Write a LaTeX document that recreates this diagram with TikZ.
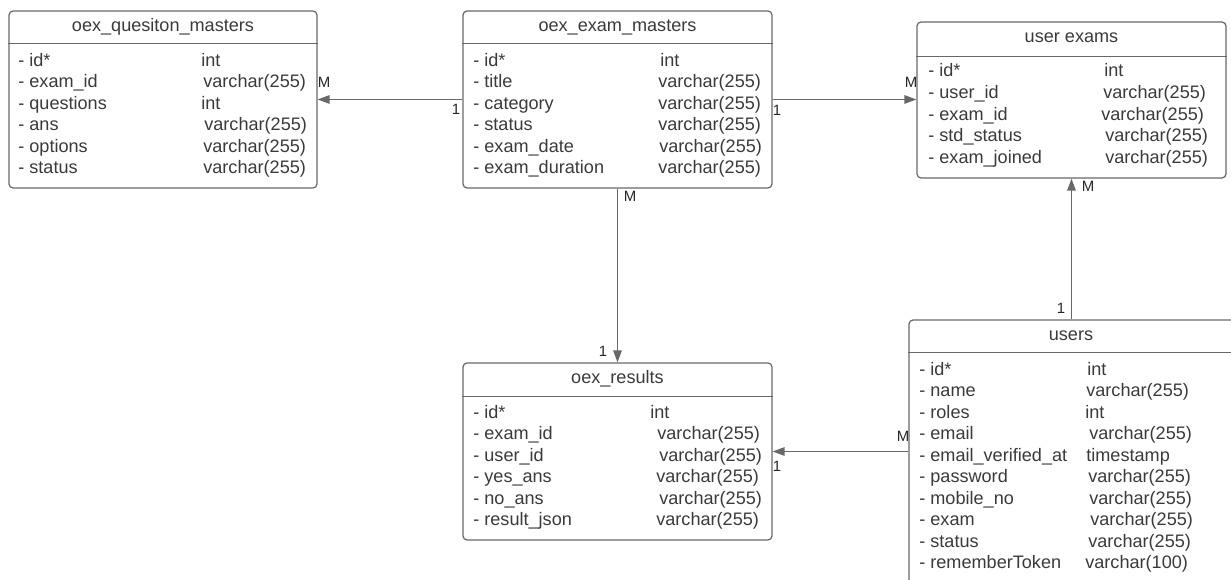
\documentclass[tikz,border=0pt]{standalone}
\usepackage{fontspec}
\setmainfont{Liberation Sans}
\usetikzlibrary{arrows.meta}
\definecolor{ink}{HTML}{3A3A3A}
\definecolor{edge}{HTML}{686868}

\begin{document}
\begin{tikzpicture}[x=0.02cm, y=-0.02cm, font=\fontsize{10.3}{12}\selectfont, text=ink,
	tbl/.style={draw=edge, line width=0.7pt, rounded corners=0.08cm, inner sep=0pt},
	hdr/.style={inner sep=0pt, text height=7.5pt, text depth=2.2pt},
	fld/.style={anchor=west, inner sep=0pt, text height=7.5pt, text depth=2.2pt},
	sep/.style={draw=edge, line width=0.7pt},
	card/.style={font=\fontsize{8.5}{10}\selectfont, text=black!85, inner sep=0pt},
	rel/.style={draw=edge, line width=0.7pt, ->, >={Triangle[length=0.24cm, width=0.17cm]}}]
	\useasboundingbox (0, 0) rectangle (1231, 580);
	\clip (0, 0) rectangle (1231, 580);
	
	% oex_quesiton_masters
	\node[tbl, minimum width=6.16cm, minimum height=3.54cm] (qm) at (163, 99.5) {};
	\draw[sep] ([yshift=-0.66cm]qm.north west) -- ([yshift=-0.66cm]qm.north east);
	\node[hdr] (qm-h) at (163, 27) {oex\_quesiton\_masters};
	\node[fld] (qm-n1) at (18, 61.5) {- id*};
	\node[fld] (qm-t1) at (201, 61.5) {int};
	\node[fld] (qm-n2) at (18, 83) {- exam\_id};
	\node[fld] (qm-t2) at (203, 83) {varchar(255)};
	\node[fld] (qm-n3) at (18, 104.5) {- questions};
	\node[fld] (qm-t3) at (201, 104.5) {int};
	\node[fld] (qm-n4) at (18, 126) {- ans};
	\node[fld] (qm-t4) at (204, 126) {varchar(255)};
	\node[fld] (qm-n5) at (18, 147.5) {- options};
	\node[fld] (qm-t5) at (203, 147.5) {varchar(255)};
	\node[fld] (qm-n6) at (18, 169) {- status};
	\node[fld] (qm-t6) at (203, 169) {varchar(255)};
	
	% oex_exam_masters
	\node[tbl, minimum width=6.18cm, minimum height=3.54cm] (em) at (617.5, 99.5) {};
	\draw[sep] ([yshift=-0.66cm]em.north west) -- ([yshift=-0.66cm]em.north east);
	\node[hdr] (em-h) at (617.5, 27) {oex\_exam\_masters};
	\node[fld] (em-n1) at (473, 61.5) {- id*};
	\node[fld] (em-t1) at (660, 61.5) {int};
	\node[fld] (em-n2) at (473, 83) {- title};
	\node[fld] (em-t2) at (658, 83) {varchar(255)};
	\node[fld] (em-n3) at (473, 104.5) {- category};
	\node[fld] (em-t3) at (658, 104.5) {varchar(255)};
	\node[fld] (em-n4) at (473, 126) {- status};
	\node[fld] (em-t4) at (658, 126) {varchar(255)};
	\node[fld] (em-n5) at (473, 147.5) {- exam\_date};
	\node[fld] (em-t5) at (659, 147.5) {varchar(255)};
	\node[fld] (em-n6) at (473, 169) {- exam\_duration};
	\node[fld] (em-t6) at (658, 169) {varchar(255)};
	
	% user exams
	\node[tbl, minimum width=6.18cm, minimum height=3.12cm] (ue) at (1071.5, 100) {};
	\draw[sep] ([yshift=-0.70cm]ue.north west) -- ([yshift=-0.70cm]ue.north east);
	\node[hdr] (ue-h) at (1071.5, 37.5) {user exams};
	\node[fld] (ue-n1) at (928, 72) {- id*};
	\node[fld] (ue-t1) at (1104, 72) {int};
	\node[fld] (ue-n2) at (928, 93.5) {- user\_id};
	\node[fld] (ue-t2) at (1103, 93.5) {varchar(255)};
	\node[fld] (ue-n3) at (928, 115.5) {- exam\_id};
	\node[fld] (ue-t3) at (1101, 115.5) {varchar(255)};
	\node[fld] (ue-n4) at (928, 137) {- std\_status};
	\node[fld] (ue-t4) at (1105, 137) {varchar(255)};
	\node[fld] (ue-n5) at (928, 158.5) {- exam\_joined};
	\node[fld] (ue-t5) at (1105, 158.5) {varchar(255)};
	
	% oex_results
	\node[tbl, minimum width=6.18cm, minimum height=3.54cm] (res) at (617.5, 451.5) {};
	\draw[sep] ([yshift=-0.68cm]res.north west) -- ([yshift=-0.68cm]res.north east);
	\node[hdr] (res-h) at (617.5, 378.5) {oex\_results};
	\node[fld] (res-n1) at (473, 413.5) {- id*};
	\node[fld] (res-t1) at (650, 413.5) {int};
	\node[fld] (res-n2) at (473, 435) {- exam\_id};
	\node[fld] (res-t2) at (657, 435) {varchar(255)};
	\node[fld] (res-n3) at (473, 456.5) {- user\_id};
	\node[fld] (res-t3) at (659, 456.5) {varchar(255)};
	\node[fld] (res-n4) at (473, 478) {- yes\_ans};
	\node[fld] (res-t4) at (656, 478) {varchar(255)};
	\node[fld] (res-n5) at (473, 499.5) {- no\_ans};
	\node[fld] (res-t5) at (659, 499.5) {varchar(255)};
	\node[fld] (res-n6) at (473, 521) {- result\_json};
	\node[fld] (res-t6) at (656, 521) {varchar(255)};
	
	% users (runs off the page)
	\node[tbl, minimum width=6.54cm, minimum height=5.44cm] (us) at (1072.5, 456) {};
	\draw[sep] ([yshift=-0.66cm]us.north west) -- ([yshift=-0.66cm]us.north east);
	\node[hdr] (us-h) at (1071, 336) {users};
	\node[fld] (us-n1) at (919, 370.5) {- id*};
	\node[fld] (us-t1) at (1087, 370.5) {int};
	\node[fld] (us-n2) at (919, 392) {- name};
	\node[fld] (us-t2) at (1086, 392) {varchar(255)};
	\node[fld] (us-n3) at (919, 413.5) {- roles};
	\node[fld] (us-t3) at (1085, 413.5) {int};
	\node[fld] (us-n4) at (919, 435) {- email};
	\node[fld] (us-t4) at (1089, 435) {varchar(255)};
	\node[fld] (us-n5) at (919, 456.5) {- email\_verified\_at};
	\node[fld] (us-t5) at (1086, 456.5) {timestamp};
	\node[fld] (us-n6) at (919, 478) {- password};
	\node[fld] (us-t6) at (1088, 478) {varchar(255)};
	\node[fld] (us-n7) at (919, 499.5) {- mobile\_no};
	\node[fld] (us-t7) at (1089, 499.5) {varchar(255)};
	\node[fld] (us-n8) at (919, 521) {- exam};
	\node[fld] (us-t8) at (1090, 521) {varchar(255)};
	\node[fld] (us-n9) at (919, 542.5) {- status};
	\node[fld] (us-t9) at (1088, 542.5) {varchar(255)};
	\node[fld] (us-n10) at (919, 564) {- rememberToken};
	\node[fld] (us-t10) at (1085, 564) {varchar(100)};
	
	% relations
	\draw[rel] (em.west) -- (qm.east);
	\draw[rel] (em.east) -- (em.east -| ue.west);
	\draw[rel] (em.south) -- (res.north);
	\draw[rel] (ue.south |- us.north) -- (ue.south);
	\draw[rel] (us.west |- res.east) -- (res.east);
	
	% cardinalities
	\node[card] (m1) at (324, 82) {M};
	\node[card] (o1) at (456, 109) {1};
	\node[card] (o2) at (777, 110) {1};
	\node[card] (m2) at (911, 82) {M};
	\node[card] (m3) at (630, 196) {M};
	\node[card] (o3) at (603, 351) {1};
	\node[card] (m4) at (1088, 186) {M};
	\node[card] (o4) at (1061, 308) {1};
	\node[card] (m5) at (903, 436) {M};
	\node[card] (o5) at (777, 466) {1};
\end{tikzpicture}
\end{document}
